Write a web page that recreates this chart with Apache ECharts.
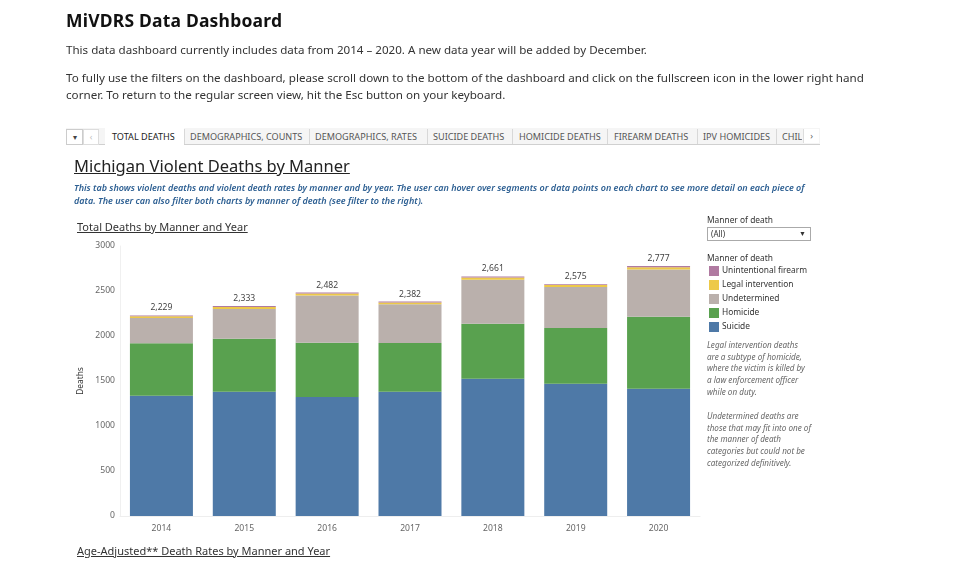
<!DOCTYPE html>
<html>
<head>
<meta charset="utf-8">
<script src="https://cdn.jsdelivr.net/npm/echarts@6/dist/echarts.min.js"></script>
<style>
html,body{margin:0;padding:0;background:#fff;width:960px;height:569px;overflow:hidden;position:relative;font-family:"Open Sans",sans-serif;}
.a{position:absolute;white-space:nowrap;}
#chart{position:absolute;left:0;top:0;width:960px;height:569px;}
.tab{position:absolute;top:129px;height:15px;line-height:15px;font-size:9.1px;color:#555;font-family:"Noto Sans",sans-serif;}
.sep{position:absolute;top:129px;width:1px;height:15px;background:#d8d8d8;}
.note{position:absolute;left:707px;font-size:8.1px;font-style:italic;color:#666;font-family:"Noto Sans",sans-serif;line-height:11.7px;white-space:nowrap;}
</style>
</head>
<body>
<div id="chart"></div>
<div class="a" style="left:66px;top:8px;font-size:17.5px;font-weight:700;color:#111;font-family:'Noto Sans',sans-serif;letter-spacing:0.2px;">MiVDRS Data Dashboard</div>
<div class="a" style="left:66px;top:42px;font-size:11.6px;color:#333;font-family:'Noto Sans',sans-serif;">This data dashboard currently includes data from 2014 – 2020. A new data year will be added by December.</div>
<div class="a" style="left:66px;top:69px;font-size:11.65px;color:#333;font-family:'Noto Sans',sans-serif;line-height:17px;">To fully use the filters on the dashboard, please scroll down to the bottom of the dashboard and click on the fullscreen icon in the lower right hand<br>corner. To return to the regular screen view, hit the Esc button on your keyboard.</div>

<div class="a" style="left:66px;top:128px;width:754px;height:16px;background:#f5f5f5;border-bottom:1px solid #d0d0d0;"></div>
<div class="a" style="left:66px;top:129px;width:15px;height:14px;border:1px solid #ccc;background:#fff;font-size:8px;line-height:14px;text-align:center;color:#444;">▾</div>
<div class="a" style="left:83px;top:129px;width:14px;height:14px;border:1px solid #ddd;background:#fff;font-size:9px;line-height:14px;text-align:center;color:#bbb;">‹</div>
<div class="a" style="left:105px;top:128px;width:79px;height:17px;background:#fff;"></div>
<div class="tab" style="left:112px;color:#222;">TOTAL DEATHS</div>
<div class="sep" style="left:184px;"></div>
<div class="tab" style="left:190px;">DEMOGRAPHICS, COUNTS</div>
<div class="sep" style="left:309px;"></div>
<div class="tab" style="left:315px;">DEMOGRAPHICS, RATES</div>
<div class="sep" style="left:427px;"></div>
<div class="tab" style="left:433px;">SUICIDE DEATHS</div>
<div class="sep" style="left:512px;"></div>
<div class="tab" style="left:519px;">HOMICIDE DEATHS</div>
<div class="sep" style="left:607px;"></div>
<div class="tab" style="left:614px;">FIREARM DEATHS</div>
<div class="sep" style="left:697px;"></div>
<div class="tab" style="left:703px;">IPV HOMICIDES</div>
<div class="sep" style="left:776px;"></div>
<div class="tab" style="left:782px;width:20px;overflow:hidden;">CHILD</div>
<div class="a" style="left:803px;top:129px;width:15px;height:14px;border-left:1px solid #ddd;background:#fff;font-size:9px;line-height:14px;text-align:center;color:#555;">›</div>

<div class="a" style="left:74px;top:154px;font-size:16.5px;color:#222;text-decoration:underline;font-family:'Noto Sans',sans-serif;">Michigan Violent Deaths by Manner</div>
<div class="a" style="left:74px;top:181px;font-size:9px;color:#2e6093;font-style:italic;font-weight:600;line-height:13px;font-family:'Noto Sans',sans-serif;">This tab shows violent deaths and violent death rates by manner and by year. The user can hover over segments or data points on each chart to see more detail on each piece of<br>data. The user can also filter both charts by manner of death (see filter to the right).</div>
<div class="a" style="left:77px;top:219px;font-size:11px;color:#333;text-decoration:underline;font-family:'Noto Sans',sans-serif;">Total Deaths by Manner and Year</div>
<div class="a" style="left:77px;top:543px;font-size:11px;color:#333;text-decoration:underline;font-family:'Noto Sans',sans-serif;">Age-Adjusted** Death Rates by Manner and Year</div>

<div class="a" style="left:707px;top:214px;font-size:8.4px;color:#333;font-family:'Noto Sans',sans-serif;">Manner of death</div>
<div class="a" style="left:707px;top:227px;width:102px;height:12px;border:1px solid #aaa;font-size:8px;line-height:12px;color:#333;font-family:'Noto Sans',sans-serif;"><span style="margin-left:3px;">(All)</span><span style="position:absolute;right:4px;font-size:7px;">▼</span></div>
<div class="a" style="left:707px;top:252px;font-size:8.4px;color:#333;font-family:'Noto Sans',sans-serif;">Manner of death</div>
<div class="note" style="top:339px;">Legal intervention deaths<br>are a subtype of homicide,<br>where the victim is killed by<br>a law enforcement officer<br>while on duty.</div>
<div class="note" style="top:410px;">Undetermined deaths are<br>those that may fit into one of<br>the manner of death<br>categories but could not be<br>categorized definitively.</div>

<script>
const years = ['2014','2015','2016','2017','2018','2019','2020'];
const suicide = [1337, 1381, 1322, 1381, 1526, 1470, 1414];
const homicide = [582, 589, 604, 541, 611, 619, 800];
const undetermined = [280, 331, 524, 430, 487, 456, 524];
const legalIntervention = [20, 20, 22, 20, 25, 22, 25];
const unintentionalFirearm = [10, 12, 10, 10, 12, 8, 14];
const yTicks = [0, 500, 1000, 1500, 2000, 2500, 3000];

const totals = years.map((_, i) => suicide[i] + homicide[i] + undetermined[i] + legalIntervention[i] + unintentionalFirearm[i]);
const fmt = v => v.toLocaleString('en-US');

const chart = echarts.init(document.getElementById('chart'), null, {renderer: 'canvas'});
const font = '"Noto Sans", sans-serif';
function bar(name, data, color, extra) {
  return Object.assign({
    name, type: 'bar', stack: 'total', data, barWidth: 63,
    itemStyle: {color}, emphasis: {disabled: true}
  }, extra || {});
}
chart.setOption({
  animation: false,
  textStyle: {fontFamily: font},
  grid: {left: 120, right: 260, top: 246, bottom: 53},
  xAxis: {
    type: 'category', data: years,
    axisLine: {show: true, lineStyle: {color: '#eeeeee'}},
    axisTick: {show: false},
    axisLabel: {color: '#666', fontSize: 8.6, margin: 8, fontFamily: font}
  },
  yAxis: {
    type: 'value', min: yTicks[0], max: yTicks[yTicks.length - 1], interval: 500,
    name: 'Deaths', nameLocation: 'middle', nameGap: 19, nameRotate: 90,
    nameTextStyle: {color: '#333', fontSize: 8.4, fontFamily: font},
    axisLine: {show: true, lineStyle: {color: '#f0f0f0'}},
    axisTick: {show: false},
    splitLine: {show: false},
    axisLabel: {color: '#666', fontSize: 8.6, margin: 5, fontFamily: font, formatter: v => String(v)}
  },
  legend: {
    orient: 'vertical', left: 709, top: 266, padding: 0,
    itemWidth: 10, itemHeight: 10, itemGap: 4,
    icon: 'rect',
    data: ['Unintentional firearm', 'Legal intervention', 'Undetermined', 'Homicide', 'Suicide'],
    textStyle: {color: '#333', fontSize: 8.4, fontFamily: font, padding: [0, 0, 0, -2]}
  },
  series: [
    bar('Suicide', suicide, '#4e79a7'),
    bar('Homicide', homicide, '#59a14f'),
    bar('Undetermined', undetermined, '#bab0ac'),
    bar('Legal intervention', legalIntervention, '#edc948'),
    bar('Unintentional firearm', unintentionalFirearm, '#b07aa1', {
      label: {
        show: true, position: 'top', distance: 3,
        color: '#444', fontSize: 8.6, fontFamily: font,
        formatter: p => fmt(totals[p.dataIndex])
      }
    })
  ]
});
</script>
</body>
</html>
